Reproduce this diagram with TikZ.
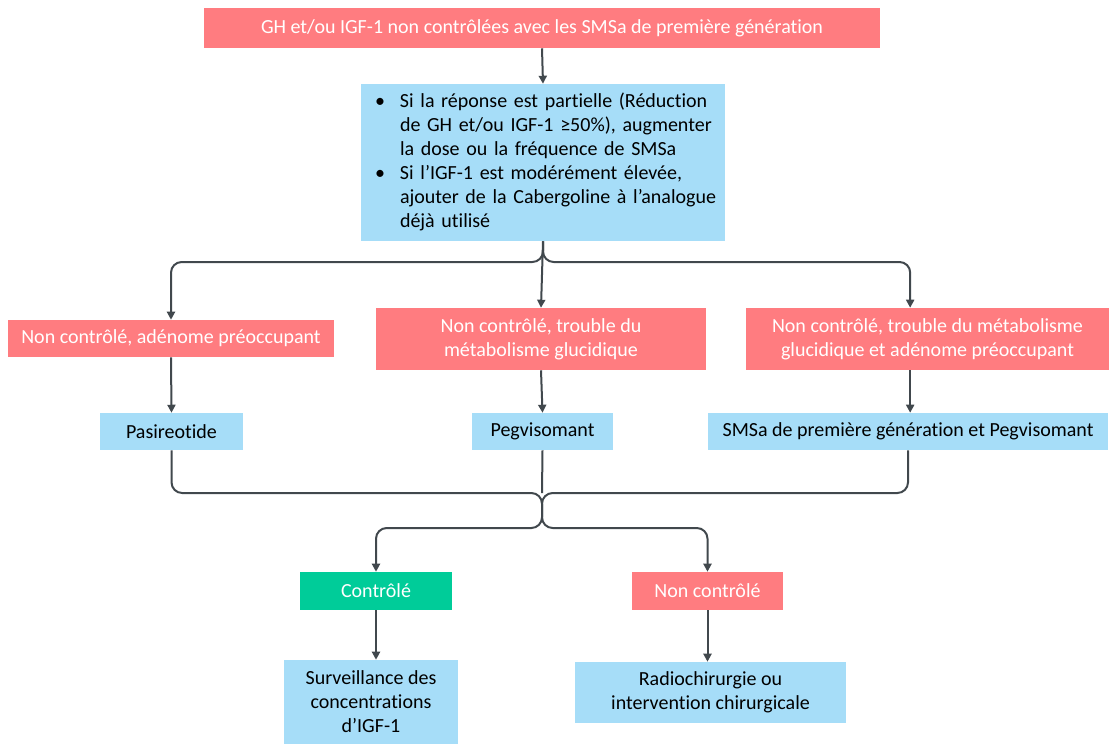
\documentclass[tikz,border=0pt]{standalone}
\usepackage{fontspec}
\setmainfont{Carlito}[Ligatures=NoCommon]
\usetikzlibrary{arrows.meta, positioning, calc}
\definecolor{algoRed}{HTML}{FF7C80}
\definecolor{algoBlue}{HTML}{A6DDF8}
\definecolor{algoGreen}{HTML}{00CC99}
\definecolor{algoLine}{HTML}{41484D}

\begin{document}
\begin{tikzpicture}[
    x=0.75pt, y=-0.75pt,
    box/.style={rectangle, inner sep=2pt, align=center,
                font=\fontsize{15}{18}\selectfont},
    redbox/.style={box, fill=algoRed, text=white},
    bluebox/.style={box, fill=algoBlue, text=black},
    greenbox/.style={box, fill=algoGreen, text=white},
    link/.style={draw=algoLine, line width=1.5pt, rounded corners=8pt,
                 -{Triangle[length=6pt,width=6pt]}},
    joint/.style={draw=algoLine, line width=1.5pt, rounded corners=8pt},
  ]
    \useasboundingbox (0,0) rectangle (1110,744);

    \node[redbox, minimum width=507pt, minimum height=30pt] (top) at (542,28)
      {GH et/ou IGF-1 non contrôlées avec les SMSa de première génération};
    \node[bluebox, minimum width=273pt, minimum height=117.75pt, text width=269pt, align=left] (b1) at (543,162.5)
      {\hspace*{8.5pt}\begin{tabular}{@{}p{18.75pt}@{}l@{}}
        \textbullet & Si la réponse est partielle (Réduction\\
                    & de GH et/ou IGF-1 ≥50\%), augmenter\\
                    & la dose ou la fréquence de SMSa\\
        \textbullet & Si l’IGF-1 est modérément élevée,\\
                    & ajouter de la Cabergoline à l’analogue\\
                    & déjà utilisé
       \end{tabular}};

    % cas non controles
    \node[redbox, minimum width=244.5pt, minimum height=27.75pt] (r1) at (171,338.5)
      {Non contrôlé, adénome préoccupant};
    \node[redbox, minimum width=247.5pt, minimum height=46.5pt] (r2) at (541,339)
      {Non contrôlé, trouble du\\métabolisme glucidique};
    \node[redbox, minimum width=272pt, minimum height=46.5pt] (r3) at (927.5,339)
      {Non contrôlé, trouble du métabolisme\\glucidique et adénome préoccupant};

    % traitements
    \node[bluebox, minimum width=107pt, minimum height=27.75pt] (p1) at (171.5,431.5) {Pasireotide};
    \node[bluebox, minimum width=106pt, minimum height=27.75pt] (p2) at (542.5,431.5) {Pegvisomant};
    \node[bluebox, minimum width=300pt, minimum height=27.75pt] (p3) at (908,431.5)
      {SMSa de première génération et Pegvisomant};

    \node[greenbox, minimum width=114pt, minimum height=28.5pt] (c1) at (376,591) {Contrôlé};
    \node[redbox, minimum width=113pt, minimum height=28.5pt] (c2) at (707.5,591) {Non contrôlé};

    \node[bluebox, minimum width=130.5pt, minimum height=63pt] (s1) at (371,702)
      {Surveillance des\\concentrations\\d’IGF-1};
    \node[bluebox, minimum width=203pt, minimum height=45.75pt] (s2) at (710.5,692.5)
      {Radiochirurgie ou\\intervention chirurgicale};

    \coordinate (sp) at (542,262);
    \coordinate (mg) at (542,493);
    \coordinate (jn) at (542,528);
    \coordinate (r3in) at ([xshift=-13pt]r3.north);
    \coordinate (r3out) at ([xshift=-13pt]r3.south);

    \draw[link] (top.south) -- (b1.north);
    \draw[link] (b1.south) |- (r1.north |- sp) -- (r1.north);
    \draw[link] (b1.south) -- (r2.north);
    \draw[link] (b1.south) |- (r3in |- sp) -- (r3in);

    \draw[link] (r1.south) -- (p1.north);
    \draw[link] (r2.south) -- (p2.north);
    \draw[link] (r3out) -- (r3out |- p3.north);

    \draw[joint] (p2.south) -- (mg);
    \draw[link] (p1.south) |- (mg) -- (jn) -| (c1.north);
    \draw[link] (p3.south) |- (mg) -- (jn) -| (c2.north);

    \draw[link] (c1.south) -- (c1.south |- s1.north);
    \draw[link] (c2.south) -- (c2.south |- s2.north);
  \end{tikzpicture}
\end{document}
